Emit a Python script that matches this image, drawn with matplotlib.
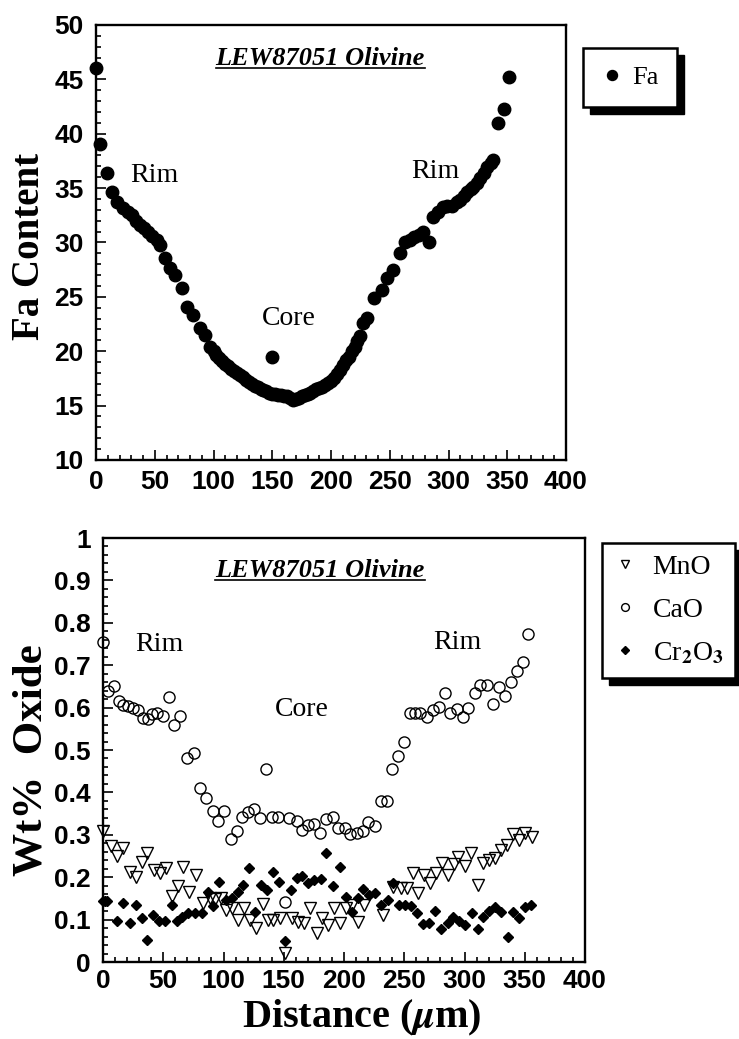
import matplotlib
matplotlib.use('Agg')
import matplotlib.pyplot as plt
from matplotlib.ticker import MultipleLocator, FuncFormatter
from matplotlib.patches import Rectangle
from matplotlib.lines import Line2D

plt.rcParams['mathtext.fontset'] = 'stix'
plt.rcParams['font.family'] = 'Liberation Sans'
plt.rcParams['font.weight'] = 'bold'
TICKSIZE = 19

# ---------------- data ----------------
fa_distance = [0, 3, 9, 13.5, 18, 23, 27, 30.6, 34, 37.4, 41, 44, 48, 52, 54.5, 59, 63, 67, 73,
               77.5, 82.5, 88.5, 93, 97, 100, 102.5, 105, 107.5, 110, 112.5, 115, 117.5, 120,
               122.5, 125, 127.5, 130, 132.5, 135, 137.5, 140, 142.5, 145, 147.5, 149.5, 150,
               152.5, 155, 157.5, 160, 162.5, 165, 167.5, 170, 172.5, 175, 177.5, 180, 182.5,
               185, 187.5, 190, 192.5, 195, 197.5, 200, 202.5, 205, 207.5, 210, 212.5, 215,
               217.5, 220, 222.5, 225, 227, 230.6, 237, 243, 248, 253, 259, 263, 267, 271,
               275, 278, 283, 287, 291, 295, 299, 303, 307, 310, 313, 316, 319, 321, 324, 327,
               330, 333, 336, 338, 342, 347, 351.5]
fa_content = [46.0, 39.1, 36.4, 34.6, 33.7, 33.2, 32.8, 32.5, 32.0, 31.6, 31.3, 31.0, 30.6, 30.2,
              29.8, 28.6, 27.7, 27.0, 25.8, 24.1, 23.3, 22.1, 21.5, 20.4, 20.0, 19.7, 19.4, 19.1,
              18.8, 18.6, 18.4, 18.2, 18.0, 17.8, 17.6, 17.4, 17.2, 17.0, 16.8, 16.7, 16.5, 16.4,
              16.3, 16.2, 19.5, 16.1, 16.1, 16.0, 16.0, 15.9, 15.9, 15.7, 15.5, 15.6, 15.7, 15.9,
              16.0, 16.1, 16.2, 16.3, 16.5, 16.6, 16.7, 16.9, 17.1, 17.3, 17.5, 17.9, 18.3, 18.7,
              19.2, 19.5, 20.0, 20.4, 20.9, 21.4, 22.6, 23.1, 24.9, 25.6, 26.7, 27.5, 29.0, 30.0,
              30.2, 30.5, 30.7, 31.0, 30.0, 32.3, 32.8, 33.3, 33.4, 33.4, 33.7, 33.9, 34.3, 34.6,
              34.9, 35.1, 35.5, 35.9, 36.4, 36.9, 37.3, 37.6, 41.0, 42.3, 45.2]

mno_distance = [0, 6.6, 11.6, 16.6, 22.4, 27.4, 32.4, 36.5, 42.3, 47.3, 52.3, 57, 62, 66.4, 71.4,
                77, 83, 88.8, 93, 98, 102, 107, 112, 117, 122, 127, 133, 137, 141, 147, 151, 157,
                162, 167, 172, 178, 182, 187, 192, 197, 202, 207, 212, 217, 232, 241, 247, 252,
                257, 261, 266, 271, 276, 281, 286, 291, 295, 300, 305, 311, 315, 320, 325, 330,
                335, 340, 345, 350, 356]
mno = [0.31, 0.274, 0.25, 0.269, 0.212, 0.20, 0.236, 0.257, 0.217, 0.21, 0.222, 0.156, 0.179,
       0.224, 0.165, 0.205, 0.139, 0.151, 0.149, 0.151, 0.123, 0.127, 0.099, 0.127, 0.099, 0.08,
       0.137, 0.099, 0.099, 0.104, 0.021, 0.104, 0.094, 0.092, 0.127, 0.068, 0.104, 0.087, 0.127,
       0.092, 0.127, 0.134, 0.094, 0.134, 0.111, 0.177, 0.175, 0.175, 0.21, 0.163, 0.205, 0.186,
       0.21, 0.233, 0.205, 0.231, 0.248, 0.226, 0.257, 0.182, 0.233, 0.24, 0.245, 0.264, 0.276,
       0.302, 0.288, 0.304, 0.295]

cao_distance = [0, 4, 9, 13, 17, 21, 25, 29, 33, 37, 41, 45, 50, 55, 59, 64, 70, 75.5, 80.5, 85.5,
                91, 95.5, 100, 106, 111, 115, 120, 125, 130, 135, 140, 145.5, 151, 154.6, 161,
                165, 170, 175, 180, 185, 191, 195, 201, 205, 211, 216, 220, 226, 231, 235.6, 240,
                245, 250, 254.8, 258.9, 263, 268.9, 274, 278.8, 283.8, 288, 293.8, 298.8, 303,
                308.7, 313, 318.7, 323.6, 328.6, 333.6, 338.6, 343.5, 348.5, 353]
cao = [0.755, 0.64, 0.652, 0.615, 0.607, 0.603, 0.598, 0.595, 0.575, 0.572, 0.585, 0.588, 0.58,
       0.625, 0.56, 0.58, 0.481, 0.493, 0.41, 0.387, 0.356, 0.333, 0.356, 0.29, 0.309, 0.342,
       0.354, 0.361, 0.34, 0.455, 0.342, 0.342, 0.142, 0.34, 0.333, 0.311, 0.323, 0.325, 0.304,
       0.337, 0.342, 0.316, 0.316, 0.302, 0.304, 0.309, 0.33, 0.321, 0.38, 0.38, 0.455, 0.486,
       0.519, 0.587, 0.587, 0.587, 0.578, 0.594, 0.601, 0.634, 0.587, 0.597, 0.578, 0.599,
       0.634, 0.653, 0.653, 0.608, 0.649, 0.627, 0.66, 0.686, 0.708, 0.774]

cr_distance = [0, 1.5, 3, 11.6, 16.6, 22.4, 27.4, 32.4, 36.5, 41.5, 46.5, 51.5, 57, 61.4, 65.6,
               70.5, 76, 82, 87, 91, 96, 102, 107, 112, 116, 121, 126, 131, 136, 141, 146, 151,
               156, 161, 165, 170, 175, 181, 185, 191, 197, 201.6, 206.6, 211.6, 216, 221, 225.7,
               230.7, 236.5, 241, 245.6, 250.6, 255.6, 260.6, 265.6, 270.5, 275.5, 280.5, 286,
               290.5, 295.4, 300.4, 306, 311, 315.4, 320.3, 325, 330, 336, 340, 345, 350, 355]
cr2o3 = [0.145, 0.145, 0.144, 0.097, 0.139, 0.092, 0.134, 0.104, 0.052, 0.111, 0.097, 0.097,
         0.134, 0.097, 0.106, 0.116, 0.116, 0.116, 0.165, 0.132, 0.189, 0.146, 0.151, 0.165,
         0.182, 0.222, 0.118, 0.182, 0.17, 0.212, 0.189, 0.05, 0.17, 0.198, 0.203, 0.186, 0.193,
         0.196, 0.257, 0.179, 0.224, 0.153, 0.118, 0.151, 0.172, 0.158, 0.163, 0.134, 0.146,
         0.186, 0.134, 0.134, 0.132, 0.116, 0.09, 0.092, 0.12, 0.078, 0.092, 0.106, 0.097, 0.087,
         0.116, 0.078, 0.106, 0.12, 0.13, 0.118, 0.059, 0.118, 0.104, 0.13, 0.134]

title_text = 'LEW87051 Olivine'

# ---------------- layout ----------------
W, H = 739, 1039
fig = plt.figure(figsize=(W / 100, H / 100), dpi=100)


def px_rect(l, t, r, b):
    return [l / W, 1 - b / H, (r - l) / W, (b - t) / H]


ax1 = fig.add_axes(px_rect(96, 25, 566, 460))
ax2 = fig.add_axes(px_rect(103, 538, 585, 962))

SERIF = 'Liberation Serif'


def style(ax, xmaj, xmin, ymaj, ymin, xpad):
    for s in ax.spines.values():
        s.set_linewidth(1.7)
    ax.xaxis.set_major_locator(MultipleLocator(xmaj))
    ax.xaxis.set_minor_locator(MultipleLocator(xmin))
    ax.yaxis.set_major_locator(MultipleLocator(ymaj))
    ax.yaxis.set_minor_locator(MultipleLocator(ymin))
    ax.tick_params(which='both', direction='in', top=False, right=False, width=1.2)
    ax.tick_params(which='major', length=7, labelsize=TICKSIZE)
    ax.tick_params(which='minor', length=3.5)
    ax.tick_params(axis='x', pad=xpad)
    ax.tick_params(axis='y', pad=9)


# ---------------- top panel ----------------
fa_handle, = ax1.plot(fa_distance, fa_content, 'o', color='black', ms=9, ls='none',
                      label='Fa', clip_on=False, zorder=3)
ax1.set_xlim(0, 400)
ax1.set_ylim(10, 50)
style(ax1, 50, 10, 5, 1, 7)

ax1.text(29, 35.6, 'Rim', fontfamily=SERIF, fontweight='normal', fontsize=20, va='baseline')
ax1.text(268, 35.9, 'Rim', fontfamily=SERIF, fontweight='normal', fontsize=20, va='baseline')
ax1.text(141, 22.4, 'Core', fontfamily=SERIF, fontweight='normal', fontsize=20, va='baseline')
t1 = ax1.text(0.477, 0.908, title_text, transform=ax1.transAxes, ha='center', va='baseline',
              fontfamily=SERIF, fontweight='bold', fontstyle='italic', fontsize=19)

# ---------------- bottom panel ----------------
mno_h, = ax2.plot(mno_distance, mno, 'v', mfc='none', mec='black', mew=1.0, ms=8.5, ls='none',
                  label='MnO', clip_on=False)
cao_h, = ax2.plot(cao_distance, cao, 'o', mfc='none', mec='black', mew=1.0, ms=8, ls='none',
                  label='CaO', clip_on=False)
cr_h, = ax2.plot(cr_distance, cr2o3, 'D', color='black', ms=5.2, ls='none',
                 label=r'Cr$_2$O$_3$', clip_on=False)
ax2.set_xlim(0, 400)
ax2.set_ylim(0, 1)
style(ax2, 50, 10, 0.1, 0.02, 5)
ax2.yaxis.set_major_formatter(FuncFormatter(
    lambda v, p: '%d' % round(v) if abs(v - round(v)) < 1e-9 else '%.1f' % v))

ax2.text(26.5, 0.733, 'Rim', fontfamily=SERIF, fontweight='normal', fontsize=20, va='baseline')
ax2.text(274, 0.738, 'Rim', fontfamily=SERIF, fontweight='normal', fontsize=20, va='baseline')
ax2.text(143, 0.58, 'Core', fontfamily=SERIF, fontweight='normal', fontsize=20, va='baseline')
t2 = ax2.text(0.45, 0.908, title_text, transform=ax2.transAxes, ha='center', va='baseline',
              fontfamily=SERIF, fontweight='bold', fontstyle='italic', fontsize=19)

# ---------------- axis labels ----------------
fig.text(30 / W, 1 - 247 / H, 'Fa Content', rotation=90, ha='center', va='center',
         fontfamily=SERIF, fontweight='bold', fontsize=28)
fig.text(31 / W, 1 - 760 / H, 'Wt%  Oxide', rotation=90, ha='center', va='center',
         fontfamily=SERIF, fontweight='bold', fontsize=31)
fig.text(362 / W, 1 - 1018 / H, r'Distance ($\mu$m)', ha='center', va='center',
         fontfamily=SERIF, fontweight='bold', fontsize=29)

# ---------------- legends ----------------
leg1 = fig.legend(handles=[fa_handle], loc='upper left', bbox_to_anchor=(583 / W, 1 - 48 / H),
                  borderaxespad=0, frameon=True, fancybox=False, edgecolor='black',
                  prop=dict(family=SERIF, size=19, weight='normal'), handlelength=0.8,
                  handletextpad=0.4, borderpad=0.68, markerscale=0.8, framealpha=1)
leg1.get_frame().set_linewidth(1.8)

leg2 = fig.legend(handles=[mno_h, cao_h, cr_h], loc='upper left',
                  bbox_to_anchor=(602 / W, 1 - 543 / H), borderaxespad=0, frameon=True,
                  fancybox=False, edgecolor='black',
                  prop=dict(family=SERIF, size=20, weight='normal'), handlelength=0.8,
                  handletextpad=0.6, borderpad=0.42, labelspacing=0.62, markerscale=0.7,
                  framealpha=1)
leg2.get_frame().set_linewidth(1.8)

fig.canvas.draw()
inv = fig.transFigure.inverted()

for leg in (leg1, leg2):
    bb = leg.get_frame().get_window_extent()
    (x0, y0) = inv.transform((bb.x0 + 7, bb.y0 - 7))
    (x1, y1) = inv.transform((bb.x1 + 7, bb.y1 - 7))
    fig.add_artist(Rectangle((x0, y0), x1 - x0, y1 - y0, transform=fig.transFigure,
                             facecolor='black', edgecolor='black', zorder=4))
    leg.set_zorder(5)

for t in (t1, t2):
    bb = t.get_window_extent()
    base = t.get_transform().transform(t.get_position())[1]
    (ux0, uy) = inv.transform((bb.x0, base - 2.5))
    (ux1, _) = inv.transform((bb.x1, base - 2.5))
    fig.add_artist(Line2D([ux0, ux1], [uy, uy], transform=fig.transFigure, color='black', lw=1.2))

fig.savefig('out.png', dpi=100)
